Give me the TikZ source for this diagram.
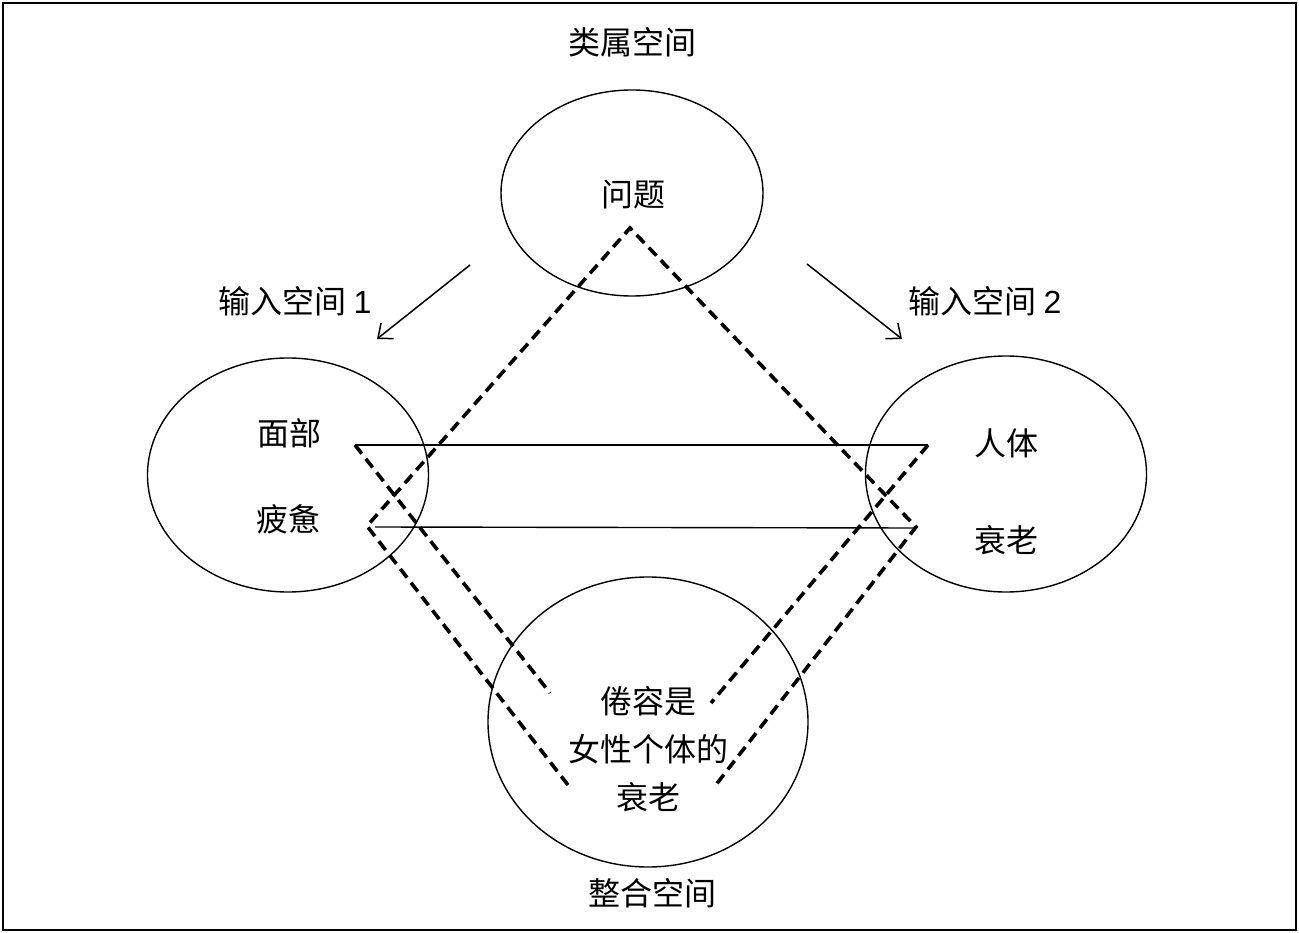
\documentclass[tikz,border=0pt]{standalone}
\usepackage{fontspec}
\setmainfont{Noto Sans CJK SC}
\newfontfamily\latinfont{Liberation Sans}
\usetikzlibrary{shapes.geometric,arrows.meta}
\tikzset{
  space/.style={draw, ellipse, line width=1.4pt, inner sep=0pt},
  lbl/.style={font=\fontsize{32}{48}\selectfont, inner sep=0pt, align=center},
  dsh/.style={line width=3.6pt, dash pattern=on 11pt off 6.5pt},
  link/.style={line width=1.4pt},
  pointer/.style={line width=1.5pt, -{Straight Barb[length=12pt,width=20pt,line width=1.5pt]}}
}
\begin{document}
\begin{tikzpicture}[x=1pt,y=-1pt]
\useasboundingbox (0,0) rectangle (1299,933);
\draw[line width=1.4pt] (3,3) rectangle (1296,930);
% ellipses
\node[space, minimum width=262pt, minimum height=206pt] (gen) at (632,193) {};
\node[space, minimum width=281pt, minimum height=234pt] (in1) at (288,475) {};
\node[space, minimum width=281pt, minimum height=236pt] (in2) at (1006,474) {};
\node[space, minimum width=320pt, minimum height=290pt] (bld) at (648,722) {};
% labels
\node[lbl] (tgen) at (632,42) {类属空间};
\node[lbl] (tq) at (633,195) {问题};
\node[lbl] (tin1) at (295,301) {输入空间 {\latinfont 1}};
\node[lbl] (tin2) at (985,301) {输入空间 {\latinfont 2}};
\node[lbl] (tf) at (289,433) {面部};
\node[lbl] (tp) at (288,519) {疲惫};
\node[lbl] (tb) at (1006,443) {人体};
\node[lbl] (ta) at (1006,540) {衰老};
\node[lbl] (tblend) at (648,749) {倦容是\\女性个体的\\衰老};
\node[lbl] (tbl) at (652,893) {整合空间};
% arrows
\coordinate (a1s) at (470,265);
\coordinate (a1e) at (377,339);
\coordinate (a2s) at (807,264);
\coordinate (a2e) at (902,339);
\draw[pointer] (a1s) -- (a1e);
\draw[pointer] (a2s) -- (a2e);
% solid correspondence lines
\coordinate (f1) at (355,445);
\coordinate (b1) at (928,445);
\coordinate (f2) at (375,527);
\coordinate (b2) at (916,528);
\draw[link] (f1) -- (b1);
\draw[link] (f2) -- (b2);
% dashed projections
\coordinate (apex) at (630,228);
\coordinate (lv) at (367,526);
\coordinate (rv) at (916,527);
\coordinate (lb) at (568,785);
\coordinate (rb) at (715,786);
\coordinate (lt) at (550,693);
\coordinate (rt) at (711,703);
\draw[dsh] (lb) -- (lv) -- (apex) -- (rv) -- (rb);
\draw[dsh] (f1) -- (lt);
\draw[dsh] (b1) -- (rt);
\end{tikzpicture}
\end{document}
